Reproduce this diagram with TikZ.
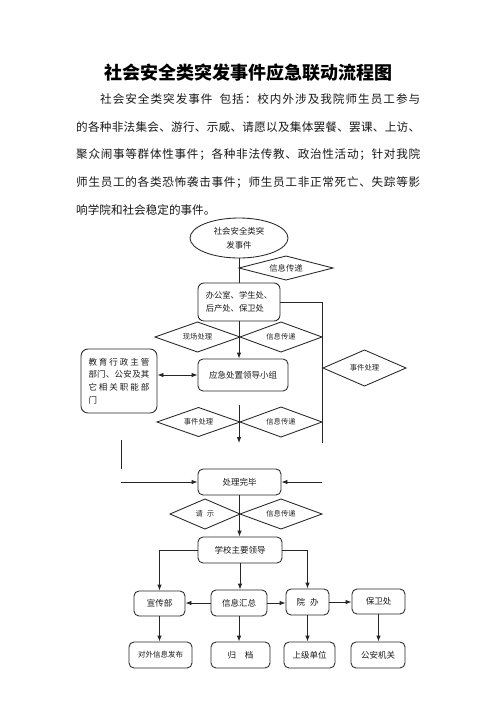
\documentclass[tikz,border=0pt]{standalone}
\usepackage{fontspec}
\setmainfont{Noto Sans CJK SC}
\usetikzlibrary{arrows.meta,shapes.geometric}
\def\jA#1#2{#1\ifx\relax#2\else\hfil\expandafter\jA\expandafter#2\fi}
\newcommand\jline[2]{\makebox[#1][s]{\jA#2\relax}}
\newcommand\dmd[7]{%
  \node[#6] (#1) at (#2,#3) {#7};
  \draw[ln] ({#2-#4},#3) -- (#2,{#3-#5}) -- ({#2+#4},#3) -- (#2,{#3+#5}) -- cycle;}
\tikzset{
  ln/.style={draw=black!85, line width=0.85pt},
  arr/.style={ln, -{Latex[length=6pt,width=4.5pt]}},
  darr/.style={ln, {Latex[length=6pt,width=4.5pt]}-{Latex[length=6pt,width=4.5pt]}},
  box/.style={ln, rounded corners=5pt, inner sep=0pt, text=black!90, font=\fontsize{8.5}{10}\selectfont},
  dtxt/.style={inner sep=0pt, text=black!85, font=\fontsize{8.3}{10}\selectfont},
  dsm/.style={inner sep=0pt, text=black!85, font=\fontsize{7.3}{9}\selectfont},
  para/.style={anchor=west, inner sep=0pt, text=black!90, font=\fontsize{11.6}{13}\selectfont},
}
\begin{document}
\begin{tikzpicture}[x=1pt,y=-1pt]
\useasboundingbox[fill=white] (0,0) rectangle (496,702);
% title and paragraph
\node[inner sep=0pt, font=\fontsize{18}{20}\selectfont\bfseries] (title) at (248,73) {社会安全类突发事件应急联动流程图};
\node[para] (p1) at (100,99.5) {\makebox[320pt][s]{\jA 社会安全类突发事件\relax\hspace{6pt plus 1fil}\jA 包括：校内外涉及我院师生员工参与\relax}};
\node[para] (p2) at (76,127.3) {\jline{344pt}{的各种非法集会、游行、示威、请愿以及集体罢餐、罢课、上访、}};
\node[para] (p3) at (76,155) {\jline{344pt}{聚众闹事等群体性事件；各种非法传教、政治性活动；针对我院}};
\node[para] (p4) at (76,182.7) {\jline{344pt}{师生员工的各类恐怖袭击事件；师生员工非正常死亡、失踪等影}};
\node[para] (p5) at (76,210) {响学院和社会稳定的事件。};
% flowchart
\node[ellipse, ln, inner sep=0pt, minimum width=98pt, minimum height=40pt, align=center, text=black!90, font=\fontsize{8.4}{14}\selectfont] (ev) at (239,238) {社会安全类突\\发事件};
\node[box, rounded corners=6pt, minimum width=82pt, minimum height=38pt, align=left, font=\fontsize{8.3}{13.4}\selectfont] (office) at (239,302) {办公室、学生处、\\后产处、保卫处};
\node[box, minimum width=90pt, minimum height=32pt] (leader) at (243,375) {应急处置领导小组};
\node[box, rounded corners=7pt, minimum width=76pt, minimum height=64pt, align=left, font=\fontsize{8.5}{12.6}\selectfont] (lb) at (119,381) {\jline{61pt}{教育行政主管}\\\jline{61pt}{部门、公安及其}\\\jline{61pt}{它相关职能部}\\门};
\node[box, minimum width=83pt, minimum height=26pt] (done) at (239.5,482) {处理完毕};
\node[box, minimum width=84pt, minimum height=26pt] (lead) at (240,550) {学校主要领导};
\node[box, minimum width=51pt, minimum height=25pt] (xc) at (159.5,603.5) {宣传部};
\node[box, minimum width=56pt, minimum height=26pt] (xx) at (239,603) {信息汇总};
\node[box, minimum width=43pt, minimum height=26pt] (yb) at (307.5,602) {院\hspace{5pt}办};
\node[box, minimum width=53pt, minimum height=25pt] (bw) at (378.5,601.5) {保卫处};
\node[box, minimum width=63pt, minimum height=26pt, font=\fontsize{7.5}{9}\selectfont] (dw) at (160.5,655) {对外信息发布};
\node[box, minimum width=59pt, minimum height=26pt] (gd) at (240.5,655) {归\hspace{9pt}档};
\node[box, minimum width=51pt, minimum height=26pt] (sj) at (309.5,655) {上级单位};
\node[box, minimum width=54pt, minimum height=26pt] (ga) at (378,655) {公安机关};
% diamonds
\dmd{d1}{286}{268}{47}{12}{dtxt}{信息传递}
\dmd{d2}{197.5}{337}{42.5}{15}{dsm}{现场处理}
\dmd{d3}{281}{337}{41}{15}{dsm}{信息传递}
\dmd{d4}{364.5}{368}{41.5}{18}{dsm}{事件处理}
\dmd{d5}{198.5}{422}{41.5}{14.5}{dsm}{事件处理}
\dmd{d6}{281}{422}{41}{15}{dsm}{信息传递}
\dmd{d7}{205}{514}{35}{15}{dsm}{请\hspace{4pt}示}
\dmd{d8}{281}{514}{41}{15}{dsm}{信息传递}
% free coordinates
\coordinate (R0) at (322,443);
\coordinate (R3) at (322,482);
\coordinate (L1) at (121,440);
\coordinate (L2) at (121,469);
\coordinate (L3) at (121,482);
\coordinate (cA) at (239,405);
\coordinate (cB) at (239,443);
% connectors
\draw[ln] (ev.south) -- (office.north);
\draw[ln] (office.east) -| (R0);
\draw[arr] (office.south) -- (office.south |- leader.north);
\draw[darr] (lb.east |- leader.west) -- (leader.west);
\draw[arr] (cA) -- (cB);
\draw[ln] (L1) -- (L2);
\draw[arr] (L3) -- (done.west);
\draw[arr] (R3) -- (done.east);
\draw[arr] (done.south) -- (done.south |- lead.north);
\draw[arr] (lead.west) -| (xc.north);
\draw[arr] (lead.east) -| (yb.north);
\draw[arr] (lead.south) -- (lead.south |- xx.north);
\draw[arr] (xx.west) -- (xx.west -| xc.east);
\draw[arr] (xx.east) -- (xx.east -| yb.west);
\draw[arr] (yb.east) -- (yb.east -| bw.west);
\draw[arr] (xc.south) -- (xc.south |- dw.north);
\draw[arr] (xx.south) -- (xx.south |- gd.north);
\draw[arr] (yb.south) -- (yb.south |- sj.north);
\draw[arr] (bw.south) -- (bw.south |- ga.north);
\end{tikzpicture}
\end{document}
